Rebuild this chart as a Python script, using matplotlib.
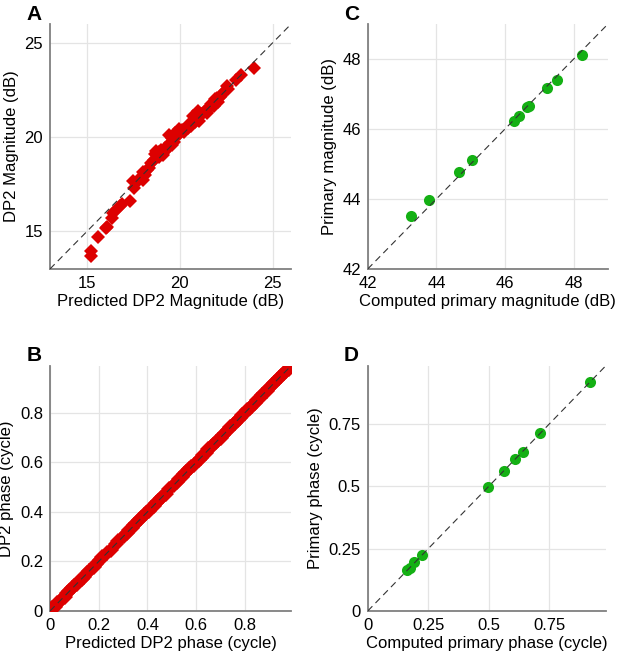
import matplotlib.pyplot as plt

plt.rcParams['font.family'] = ['Liberation Sans', 'DejaVu Sans']

RED = '#dd0000'
GREEN = '#14b014'

# panel A: DP2 magnitude
magPred = [15.2, 15.2, 15.6, 16.0, 16.05, 16.35, 16.4, 16.5, 16.8, 16.9,
           17.3, 17.5, 17.55, 17.7, 17.85, 18.0, 18.0, 18.1, 18.25, 18.35,
           18.45, 18.6, 18.65, 18.7, 18.85, 18.9, 19.0, 19.1, 19.2, 19.3,
           19.4, 19.45, 19.55, 19.6, 19.75, 19.85, 19.95, 20.0, 20.1, 20.2,
           20.3, 20.45, 20.5, 20.6, 20.7, 20.8, 20.9, 21.0, 21.1, 21.2,
           21.3, 21.4, 21.5, 21.6, 21.7, 21.8, 21.9, 22.0, 22.05, 22.2,
           22.3, 22.45, 22.55, 22.6, 23.0, 23.3, 24.0,
           18.8, 19.15, 19.7, 20.25, 20.65, 21.05, 21.45, 21.85, 22.15]
magMeas = [13.95, 13.7, 14.7, 15.15, 15.25, 15.7, 15.95, 16.05, 16.35, 16.45,
           16.6, 17.65, 17.3, 17.6, 17.85, 18.15, 17.7, 18.0, 18.25, 18.35,
           18.6, 18.8, 19.1, 19.25, 18.95, 19.2, 19.3, 19.05, 19.4, 19.35,
           20.1, 19.7, 19.6, 19.95, 20.2, 20.05, 20.45, 20.2, 20.35, 20.25,
           20.4, 20.5, 20.7, 20.6, 21.1, 20.8, 20.95, 21.4, 21.15, 21.2,
           21.35, 21.4, 21.55, 21.6, 21.75, 21.8, 22.0, 22.05, 21.85, 22.2,
           22.35, 22.45, 22.7, 22.55, 23.0, 23.3, 23.65,
           19.1, 19.2, 19.75, 20.35, 20.75, 20.85, 21.3, 21.65, 22.1]

# panel B: DP2 phase
phPred = [0.0, 0.01, 0.02, 0.03, 0.04, 0.05, 0.06, 0.07, 0.08, 0.09,
          0.10, 0.11, 0.12, 0.13, 0.14, 0.15, 0.16, 0.18, 0.19, 0.205,
          0.215, 0.235, 0.25, 0.27, 0.28, 0.305, 0.315, 0.325, 0.335, 0.345,
          0.355, 0.365, 0.375, 0.385, 0.395, 0.405, 0.415, 0.425, 0.435, 0.445,
          0.455, 0.465, 0.475, 0.49, 0.51, 0.52, 0.53, 0.54, 0.55, 0.56,
          0.57, 0.58, 0.59, 0.61, 0.62, 0.63, 0.64, 0.65, 0.66, 0.67,
          0.68, 0.69, 0.70, 0.71, 0.72, 0.73, 0.74, 0.75, 0.76, 0.77,
          0.78, 0.79, 0.80, 0.81, 0.82, 0.83, 0.84, 0.85, 0.86, 0.87,
          0.88, 0.89, 0.90, 0.91, 0.92, 0.93, 0.94, 0.95, 0.96, 0.97, 0.98]
phMeas = [0.0, 0.012, 0.018, 0.032, 0.041, 0.05, 0.058, 0.071, 0.08, 0.092,
          0.10, 0.108, 0.121, 0.13, 0.139, 0.152, 0.162, 0.178, 0.191, 0.204,
          0.216, 0.236, 0.248, 0.272, 0.281, 0.303, 0.316, 0.326, 0.334, 0.346,
          0.354, 0.366, 0.374, 0.386, 0.396, 0.404, 0.416, 0.424, 0.436, 0.444,
          0.456, 0.466, 0.474, 0.491, 0.509, 0.521, 0.531, 0.539, 0.551, 0.559,
          0.571, 0.581, 0.589, 0.611, 0.619, 0.631, 0.639, 0.652, 0.66, 0.668,
          0.681, 0.69, 0.699, 0.711, 0.72, 0.729, 0.741, 0.75, 0.759, 0.771,
          0.78, 0.79, 0.799, 0.811, 0.82, 0.829, 0.841, 0.85, 0.859, 0.871,
          0.88, 0.889, 0.901, 0.91, 0.919, 0.931, 0.94, 0.949, 0.961, 0.97, 0.978]

# panel C: primary magnitude
primMagComp = [43.25, 43.78, 44.66, 45.03, 46.27, 46.40, 46.64, 46.71, 47.22, 47.50, 48.25]
primMagMeas = [43.50, 43.96, 44.76, 45.12, 46.22, 46.36, 46.62, 46.65, 47.18, 47.41, 48.12]

# panel D: primary phase
primPhComp = [0.161, 0.174, 0.192, 0.225, 0.497, 0.563, 0.610, 0.641, 0.714, 0.919]
primPhMeas = [0.163, 0.172, 0.195, 0.223, 0.497, 0.562, 0.609, 0.640, 0.715, 0.918]


def styleAx(ax, lims, ticks, xlab, ylab, tickLabels=None):
    ax.set_xlim(lims)
    ax.set_ylim(lims)
    ax.set_xticks(ticks)
    ax.set_yticks(ticks)
    if tickLabels is not None:
        ax.set_xticklabels(tickLabels)
        ax.set_yticklabels(tickLabels)
    ax.grid(True, color='#e4e4e4', linewidth=0.9)
    ax.set_axisbelow(True)
    for s in ['top', 'right']:
        ax.spines[s].set_visible(False)
    for s in ['left', 'bottom']:
        ax.spines[s].set_color('#808080')
        ax.spines[s].set_linewidth(1.3)
    ax.tick_params(length=0, labelsize=12, pad=5)
    ax.set_xlabel(xlab, fontsize=12, labelpad=2)
    ax.set_ylabel(ylab, fontsize=12, labelpad=4)
    ax.plot(lims, lims, color='#333333', linestyle=(0, (6, 4)), linewidth=0.8, zorder=5)


fig = plt.figure(figsize=(6.17, 6.56), dpi=100)
axA = fig.add_axes([0.081, 0.590, 0.391, 0.3735])
axC = fig.add_axes([0.596, 0.590, 0.3895, 0.3735])
axB = fig.add_axes([0.081, 0.0686, 0.391, 0.374])
axD = fig.add_axes([0.596, 0.0686, 0.386, 0.374])

axA.plot(magPred, magMeas, 'D', color=RED, markersize=7, markeredgewidth=0, zorder=3)
styleAx(axA, [13, 26], [15, 20, 25], 'Predicted DP2 Magnitude (dB)', 'DP2 Magnitude (dB)')

axB.plot(phPred, phMeas, 'D', color=RED, markersize=8, markeredgewidth=0, zorder=3)
styleAx(axB, [0, 0.99], [0, 0.2, 0.4, 0.6, 0.8], 'Predicted DP2 phase (cycle)', 'DP2 phase (cycle)',
        ['0', '0.2', '0.4', '0.6', '0.8'])

axC.plot(primMagComp, primMagMeas, 'o', color=GREEN, markersize=8, markeredgewidth=0, zorder=3)
styleAx(axC, [42, 49], [42, 44, 46, 48], 'Computed primary magnitude (dB)', 'Primary magnitude (dB)')

axD.plot(primPhComp, primPhMeas, 'o', color=GREEN, markersize=8, markeredgewidth=0, zorder=3)
styleAx(axD, [0, 0.985], [0, 0.25, 0.5, 0.75], 'Computed primary phase (cycle)', 'Primary phase (cycle)',
        ['0', '0.25', '0.5', '0.75'])

fig.text(0.043, 0.993, 'A', fontsize=15, fontweight='bold', va='top')
fig.text(0.043, 0.472, 'B', fontsize=15, fontweight='bold', va='top')
fig.text(0.557, 0.993, 'C', fontsize=15, fontweight='bold', va='top')
fig.text(0.557, 0.472, 'D', fontsize=15, fontweight='bold', va='top')

fig.savefig('out.png', dpi=100)
